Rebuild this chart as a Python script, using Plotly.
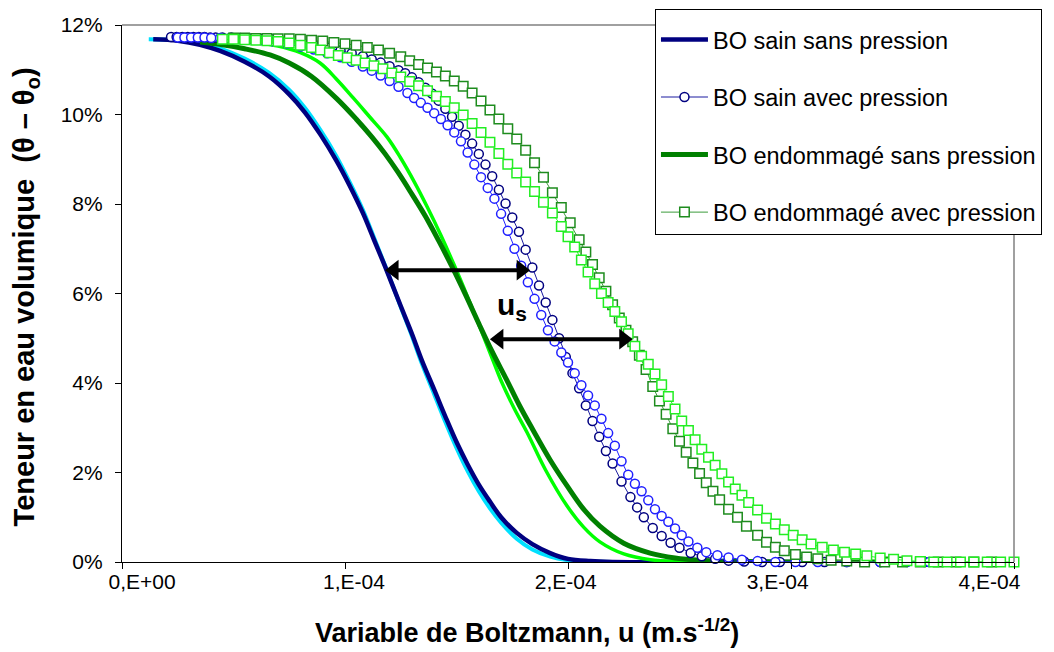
import plotly.graph_objects as go

# ---------------- data: (u in units of 1e-4 m.s^-1/2, theta in %) ----------------
U_UNIT = 1e-4

# BO sain sans pression : two samples (navy / cyan)
sain_sans_a = [(0.14, 11.68), (0.25, 11.65), (0.35, 11.56), (0.44, 11.42), (0.55, 11.18), (0.66, 10.85),
               (0.75, 10.45), (0.82, 10.05), (0.89, 9.55), (0.96, 8.98), (1.02, 8.42), (1.08, 7.8),
               (1.13, 7.2), (1.18, 6.6), (1.25, 5.72), (1.3, 5.1), (1.345, 4.5), (1.4, 3.85), (1.45, 3.25),
               (1.5, 2.68), (1.55, 2.18), (1.6, 1.73), (1.65, 1.35), (1.7, 1.0), (1.77, 0.65), (1.84, 0.4),
               (1.92, 0.2), (2.0, 0.07), (2.1, 0.02), (2.2, 0.0), (2.6, 0.0), (3.0, 0.0)]
sain_sans_b = [(0.12, 11.68), (0.25, 11.66), (0.35, 11.6), (0.44, 11.48), (0.55, 11.25), (0.66, 10.93),
               (0.75, 10.55), (0.82, 10.15), (0.89, 9.65), (0.96, 9.08), (1.02, 8.5), (1.08, 7.87),
               (1.13, 7.25), (1.18, 6.62), (1.25, 5.7), (1.3, 5.05), (1.345, 4.43), (1.4, 3.75), (1.45, 3.13),
               (1.5, 2.55), (1.55, 2.03), (1.6, 1.58), (1.65, 1.2), (1.7, 0.88), (1.77, 0.52), (1.84, 0.28),
               (1.92, 0.12), (2.0, 0.04), (2.1, 0.01), (2.2, 0.0), (2.6, 0.0)]

# BO endommage sans pression : two samples (dark green / lime)
end_sans_a = [(0.35, 11.62), (0.45, 11.56), (0.55, 11.47), (0.664, 11.33), (0.75, 11.15), (0.85, 10.85),
              (0.964, 10.35), (1.05, 9.9), (1.12, 9.5), (1.18, 9.12), (1.239, 8.7), (1.3, 8.22), (1.36, 7.73),
              (1.42, 7.18), (1.48, 6.6), (1.54, 5.98), (1.6, 5.33), (1.66, 4.7), (1.725, 4.07), (1.78, 3.52),
              (1.843, 2.95), (1.92, 2.28), (1.996, 1.7), (2.07, 1.18), (2.143, 0.8), (2.25, 0.42),
              (2.368, 0.2), (2.48, 0.09), (2.59, 0.04), (2.8, 0.01), (3.0, 0.0), (3.4, 0.0)]
end_sans_b = [(0.5, 11.65), (0.6, 11.61), (0.7, 11.53), (0.8, 11.38), (0.888, 11.15), (0.96, 10.8),
              (1.037, 10.37), (1.11, 9.95), (1.188, 9.5), (1.247, 9.05), (1.31, 8.5), (1.37, 7.92),
              (1.43, 7.3), (1.49, 6.63), (1.55, 5.92), (1.61, 5.18), (1.66, 4.55), (1.7, 4.05), (1.76, 3.42),
              (1.816, 2.9), (1.9, 2.05), (1.996, 1.25), (2.07, 0.78), (2.143, 0.45), (2.25, 0.18),
              (2.37, 0.05), (2.5, 0.01), (2.7, 0.0), (3.0, 0.0)]

# BO sain avec pression : two samples (navy circles / blue circles)
sain_avec_a = [(0.22, 11.73), (0.245, 11.73), (0.27, 11.73), (0.295, 11.73), (0.32, 11.73), (0.345, 11.73),
               (0.37, 11.73), (0.395, 11.72), (0.42, 11.72), (0.45, 11.72), (0.49, 11.72), (0.53, 11.71),
               (0.58, 11.7), (0.63, 11.69), (0.68, 11.68), (0.74, 11.65), (0.8, 11.61), (0.86, 11.56),
               (0.92, 11.5), (0.98, 11.43), (1.03, 11.37), (1.08, 11.3), (1.12, 11.23), (1.16, 11.16),
               (1.2, 11.08), (1.24, 10.99), (1.27, 10.92), (1.3, 10.83), (1.33, 10.72), (1.36, 10.6),
               (1.39, 10.47), (1.42, 10.31), (1.45, 10.13), (1.48, 9.95), (1.51, 9.75), (1.54, 9.55),
               (1.57, 9.35), (1.6, 9.12), (1.63, 8.88), (1.66, 8.62), (1.69, 8.32), (1.72, 8.01), (1.75, 7.7),
               (1.78, 7.38), (1.81, 6.98), (1.84, 6.58), (1.87, 6.18), (1.9, 5.8), (1.93, 5.41), (1.96, 5.0),
               (1.99, 4.58), (2.02, 4.22), (2.05, 3.88), (2.08, 3.5), (2.11, 3.15), (2.14, 2.8), (2.17, 2.48),
               (2.2, 2.2), (2.24, 1.8), (2.28, 1.45), (2.31, 1.22), (2.34, 1.0), (2.38, 0.76), (2.42, 0.58),
               (2.46, 0.43), (2.5, 0.32), (2.55, 0.2), (2.6, 0.13), (2.66, 0.07), (2.72, 0.03), (2.79, 0.01),
               (2.87, 0.0), (2.95, 0.0), (3.05, 0.0), (3.15, 0.0), (3.25, 0.0), (3.4, 0.0), (3.6, 0.0)]
sain_avec_b = [(0.25, 11.72), (0.28, 11.72), (0.31, 11.72), (0.34, 11.72), (0.37, 11.72), (0.4, 11.71),
               (0.44, 11.71), (0.48, 11.7), (0.53, 11.7), (0.58, 11.68), (0.63, 11.66), (0.68, 11.63),
               (0.74, 11.58), (0.8, 11.52), (0.86, 11.45), (0.92, 11.37), (0.98, 11.28), (1.03, 11.18),
               (1.08, 11.07), (1.12, 10.98), (1.16, 10.87), (1.2, 10.75), (1.24, 10.62), (1.28, 10.48),
               (1.31, 10.37), (1.34, 10.26), (1.37, 10.15), (1.4, 10.03), (1.43, 9.9), (1.46, 9.76),
               (1.49, 9.6), (1.52, 9.4), (1.55, 9.15), (1.58, 8.88), (1.61, 8.6), (1.64, 8.36), (1.67, 8.12),
               (1.7, 7.78), (1.73, 7.4), (1.76, 7.0), (1.79, 6.62), (1.82, 6.25), (1.85, 5.88), (1.88, 5.52),
               (1.91, 5.18), (1.94, 4.93), (1.97, 4.68), (2.0, 4.46), (2.03, 4.22), (2.06, 3.95), (2.09, 3.72),
               (2.12, 3.5), (2.15, 3.2), (2.18, 2.88), (2.21, 2.6), (2.24, 2.25), (2.27, 1.95), (2.3, 1.75),
               (2.33, 1.58), (2.36, 1.38), (2.39, 1.18), (2.42, 1.03), (2.45, 0.9), (2.48, 0.75), (2.51, 0.6),
               (2.54, 0.46), (2.58, 0.32), (2.62, 0.22), (2.67, 0.15), (2.72, 0.1), (2.78, 0.05), (2.85, 0.02),
               (2.93, 0.0), (3.02, 0.0), (3.12, 0.0), (3.25, 0.0), (3.4, 0.0), (3.52, 0.0), (3.62, 0.0)]

# BO endommage avec pression : two samples (dark green squares / lime squares)
end_avec_a = [(0.5, 11.71), (0.55, 11.71), (0.6, 11.7), (0.65, 11.7), (0.7, 11.69), (0.75, 11.69), (0.8, 11.68),
              (0.85, 11.66), (0.9, 11.64), (0.95, 11.61), (1.0, 11.58), (1.05, 11.55), (1.1, 11.5),
              (1.15, 11.44), (1.2, 11.37), (1.25, 11.29), (1.29, 11.2), (1.33, 11.12), (1.37, 11.04),
              (1.41, 10.95), (1.45, 10.86), (1.49, 10.75), (1.53, 10.63), (1.57, 10.48), (1.61, 10.3),
              (1.65, 10.1), (1.69, 9.9), (1.73, 9.68), (1.77, 9.45), (1.81, 9.2), (1.85, 8.92), (1.89, 8.6),
              (1.93, 8.25), (1.97, 7.92), (2.01, 7.58), (2.05, 7.2), (2.08, 6.93), (2.11, 6.65), (2.14, 6.35),
              (2.17, 6.05), (2.2, 5.75), (2.23, 5.45), (2.26, 5.18), (2.29, 4.92), (2.32, 4.62), (2.35, 4.3),
              (2.38, 3.92), (2.41, 3.6), (2.44, 3.3), (2.47, 2.98), (2.5, 2.7), (2.53, 2.45), (2.56, 2.21),
              (2.59, 1.98), (2.62, 1.77), (2.65, 1.58), (2.68, 1.39), (2.72, 1.18), (2.76, 1.0), (2.8, 0.8),
              (2.85, 0.6), (2.89, 0.44), (2.93, 0.33), (2.97, 0.25), (3.02, 0.17), (3.07, 0.11), (3.12, 0.07),
              (3.18, 0.04), (3.25, 0.02), (3.33, 0.0), (3.42, 0.0), (3.5, 0.0), (3.58, 0.0), (3.66, 0.0),
              (3.74, 0.0), (3.82, 0.0), (3.9, 0.0)]
end_avec_b = [(0.45, 11.68), (0.5, 11.68), (0.55, 11.67), (0.6, 11.66), (0.65, 11.65), (0.7, 11.63), (0.75, 11.6),
              (0.8, 11.55), (0.85, 11.5), (0.89, 11.44), (0.93, 11.38), (0.97, 11.32), (1.01, 11.27),
              (1.05, 11.21), (1.09, 11.15), (1.13, 11.09), (1.17, 11.02), (1.21, 10.93), (1.25, 10.84),
              (1.29, 10.74), (1.33, 10.64), (1.37, 10.53), (1.41, 10.41), (1.45, 10.29), (1.49, 10.15),
              (1.53, 9.99), (1.57, 9.8), (1.61, 9.6), (1.65, 9.38), (1.69, 9.13), (1.73, 8.89), (1.77, 8.69),
              (1.81, 8.49), (1.85, 8.28), (1.89, 8.04), (1.93, 7.8), (1.97, 7.5), (2.0, 7.27), (2.03, 7.04),
              (2.06, 6.75), (2.09, 6.48), (2.12, 6.22), (2.15, 6.0), (2.18, 5.8), (2.21, 5.6), (2.24, 5.37),
              (2.27, 5.1), (2.3, 4.82), (2.33, 4.6), (2.36, 4.42), (2.39, 4.2), (2.42, 3.96), (2.45, 3.7),
              (2.48, 3.42), (2.51, 3.15), (2.54, 2.94), (2.57, 2.73), (2.6, 2.52), (2.63, 2.34), (2.66, 2.16),
              (2.69, 1.97), (2.72, 1.79), (2.75, 1.63), (2.78, 1.49), (2.81, 1.33), (2.85, 1.16), (2.89, 0.98),
              (2.93, 0.85), (2.97, 0.72), (3.01, 0.6), (3.05, 0.5), (3.09, 0.4), (3.14, 0.33), (3.19, 0.27),
              (3.24, 0.22), (3.29, 0.18), (3.34, 0.14), (3.4, 0.09), (3.46, 0.06), (3.52, 0.03), (3.58, 0.01),
              (3.64, 0.0), (3.7, 0.0), (3.76, 0.0), (3.82, 0.0), (3.88, 0.0), (3.94, 0.0), (4.0, 0.0)]

# axis ticks (tick marks every 1e-4; Excel-style labels drawn slightly compressed)
x_tickvals = [0, 1, 2, 3, 4]
x_label_pos = [0.09, 1.04, 1.99, 2.94, 3.89]
x_ticktext = ["0,E+00", "1,E-04", "2,E-04", "3,E-04", "4,E-04"]
y_tickvals = [0, 2, 4, 6, 8, 10, 12]
y_ticktext = ["0%", "2%", "4%", "6%", "8%", "10%", "12%"]

# u_s double arrows: (u of left head, u of right head, theta level)
us_arrows = [(1.22, 1.79, 6.52), (1.69, 2.25, 4.98)]
us_label_pos = (1.75, 5.72)

legend_names = ["BO sain sans pression", "BO sain avec pression",
                "BO endommagé sans pression", "BO endommagé avec pression"]

# ---------------- figure ----------------
FONT = "Liberation Sans, Arial, sans-serif"


def ux(series):
    return [p[0] * U_UNIT for p in series]


def ty(series):
    return [p[1] for p in series]


fig = go.Figure()

# smooth curves (sans pression)
fig.add_trace(go.Scatter(x=ux(sain_sans_b), y=ty(sain_sans_b), mode="lines",
                         line=dict(color="#00E0FF", width=4, shape="spline"),
                         showlegend=False, hoverinfo="skip"))
fig.add_trace(go.Scatter(x=ux(sain_sans_a), y=ty(sain_sans_a), mode="lines",
                         line=dict(color="#000080", width=4.5, shape="spline"),
                         name=legend_names[0], legendgroup="g1", legendrank=1))
fig.add_trace(go.Scatter(x=ux(end_sans_b), y=ty(end_sans_b), mode="lines",
                         line=dict(color="#00FF00", width=3.5, shape="spline"),
                         showlegend=False, hoverinfo="skip"))
fig.add_trace(go.Scatter(x=ux(end_sans_a), y=ty(end_sans_a), mode="lines",
                         line=dict(color="#008000", width=5, shape="spline"),
                         name=legend_names[2], legendgroup="g3", legendrank=3))

# marker series (avec pression)
fig.add_trace(go.Scatter(x=ux(sain_avec_a), y=ty(sain_avec_a), mode="lines+markers",
                         line=dict(color="#1a1aa0", width=1),
                         marker=dict(symbol="circle", size=9, color="white",
                                     line=dict(color="#000080", width=1.5)),
                         cliponaxis=False, name=legend_names[1], legendgroup="g2", legendrank=2))
fig.add_trace(go.Scatter(x=ux(sain_avec_b), y=ty(sain_avec_b), mode="lines+markers",
                         line=dict(color="#2020FF", width=1),
                         marker=dict(symbol="circle", size=9, color="white",
                                     line=dict(color="#2020FF", width=1.5)),
                         cliponaxis=False, showlegend=False))
fig.add_trace(go.Scatter(x=ux(end_avec_a), y=ty(end_avec_a), mode="lines+markers",
                         line=dict(color="#3c9c3c", width=1),
                         marker=dict(symbol="square", size=9.5, color="white",
                                     line=dict(color="#1E8C1E", width=1.5)),
                         cliponaxis=False, name=legend_names[3], legendgroup="g4", legendrank=4))
fig.add_trace(go.Scatter(x=ux(end_avec_b), y=ty(end_avec_b), mode="lines+markers",
                         line=dict(color="#33EE33", width=1),
                         marker=dict(symbol="square", size=9.5, color="white",
                                     line=dict(color="#22EE22", width=1.5)),
                         cliponaxis=False, showlegend=False))

# double-headed u_s arrows
for u0, u1, th in us_arrows:
    fig.add_trace(go.Scatter(x=[u0 * U_UNIT, u1 * U_UNIT], y=[th, th], mode="lines+markers",
                             line=dict(color="black", width=4),
                             marker=dict(symbol=["triangle-left", "triangle-right"], size=18,
                                         color="black", line=dict(width=0)),
                             showlegend=False, hoverinfo="skip"))

# empty trace that carries the label axis (x2)
fig.add_trace(go.Scatter(x=[], y=[], xaxis="x2", yaxis="y", showlegend=False, hoverinfo="skip"))

annotations = [
    dict(x=us_label_pos[0] * U_UNIT, y=us_label_pos[1], xref="x", yref="y",
         text="<b>u<sub>s</sub></b>", showarrow=False,
         font=dict(family=FONT, size=30, color="black")),
    dict(x=0.454, y=-0.128, xref="paper", yref="paper",
         text="<b>Variable de Boltzmann, u (m.s<sup>-1/2</sup>)</b>",
         showarrow=False, yanchor="middle",
         font=dict(family=FONT, size=27, color="black")),
    dict(x=-0.108, y=0.494, xref="paper", yref="paper", textangle=-90,
         text="<b>Teneur en eau volumique  (θ – θ<sub>o</sub>)</b>",
         showarrow=False, xanchor="center", yanchor="middle",
         font=dict(family=FONT, size=29, color="black")),
]

fig.update_layout(
    width=1054, height=652,
    margin=dict(l=122, r=40, t=25, b=90, autoexpand=False),
    paper_bgcolor="white", plot_bgcolor="white",
    font=dict(family=FONT, color="black"),
    showlegend=True,
    legend=dict(x=0.5975, y=1.03, xanchor="left", yanchor="top",
                bgcolor="white", bordercolor="black", borderwidth=1,
                font=dict(family=FONT, size=23.5, color="black"),
                title=dict(text=" ", font=dict(size=6)),
                itemwidth=47, tracegroupgap=24, traceorder="grouped"),
    annotations=annotations,
    shapes=[
        dict(type="line", xref="paper", yref="paper", x0=0, x1=1, y0=1, y1=1,
             line=dict(color="#808080", width=1.5)),
        dict(type="line", xref="paper", yref="paper", x0=1, x1=1, y0=0, y1=1,
             line=dict(color="#808080", width=1.5)),
    ],
    xaxis=dict(range=[0, 4e-4], tickmode="array", tickvals=[v * U_UNIT for v in x_tickvals],
               showticklabels=False,
               showgrid=False, zeroline=False, showline=True, linecolor="black", linewidth=1.2,
               ticks="outside", ticklen=6, tickcolor="black"),
    xaxis2=dict(range=[0, 4e-4], overlaying="x", anchor="y", side="bottom",
                tickmode="array", tickvals=[v * U_UNIT for v in x_label_pos], ticktext=x_ticktext,
                showgrid=False, zeroline=False, showline=False, ticks="",
                ticklabelstandoff=5,
                tickfont=dict(family=FONT, size=21, color="black")),
    yaxis=dict(range=[0, 12], tickmode="array", tickvals=y_tickvals, ticktext=y_ticktext,
               showgrid=False, zeroline=False, showline=True, linecolor="black", linewidth=1.2,
               ticks="outside", ticklen=6, tickcolor="black", ticklabelstandoff=8,
               tickfont=dict(family=FONT, size=21, color="black")),
)

fig.write_html("out.html", config={"displayModeBar": False},
               post_script="document.body.style.margin='0';")
